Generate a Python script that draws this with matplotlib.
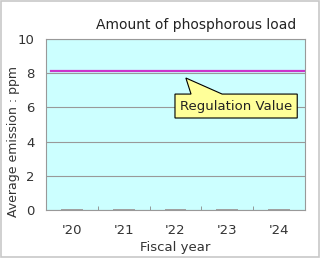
import matplotlib.pyplot as plt
import numpy as np
from matplotlib.patches import Polygon

years = ["'20", "'21", "'22", "'23", "'24"]
emission = [0.04, 0.04, 0.04, 0.04, 0.04]
regulation = 8.1

fig = plt.figure(figsize=(3.2, 2.58), dpi=100)
fig.patches.append(plt.Rectangle((0.003, 0.004), 0.994, 0.992, transform=fig.transFigure,
                                 fill=False, ec='#c8c8c8', lw=1.2))
ax = fig.add_axes([46/320, 1-210/258, 259/320, 171/258])
ax.set_facecolor('#ccffff')

x = np.arange(len(years))
ax.bar(x, emission, width=0.42, color='#a0a0a0', zorder=3)
ax.axhline(regulation, color='#cc33cc', lw=1.6, xmin=0.02, zorder=4)

ax.set_xlim(-0.5, len(years)-0.5)
ax.set_ylim(0, 10)
ax.set_yticks([0, 2, 4, 6, 8, 10])
ax.yaxis.grid(True, color='#999999', lw=0.8)
ax.set_axisbelow(True)
ax.set_xticks(x)
ax.set_xticklabels(years, fontsize=9.5, color='#333333')
ax.set_xticks(np.arange(len(years)-1)+0.5, minor=True)
ax.tick_params(axis='x', which='major', length=0, pad=10)
ax.tick_params(axis='x', which='minor', length=3, direction='in', color='#888888')
ax.tick_params(axis='y', length=0, pad=8, labelsize=9.5, labelcolor='#333333')
for s in ax.spines.values():
    s.set_color('#999999')

ax.set_ylabel('Average emission : ppm', fontsize=9, color='#333333')
ax.yaxis.set_label_coords(-0.10, 0.40)
ax.set_xlabel('Fiscal year', fontsize=9.5, color='#333333', labelpad=3)
fig.text(296/320, 1-25/258, 'Amount of phosphorous load', ha='right', va='center',
         fontsize=10, color='#222222')

# callout for the regulation value
bx0, bx1, by0, by1 = 1.99, 4.35, 5.38, 6.78
tip = (2.20, 7.72)
callout = Polygon([(bx0, by0), (bx1, by0), (bx1, by1), (2.90, by1), tip, (2.30, by1), (bx0, by1)],
                  closed=True, fc='#ffff99', ec='black', lw=0.8, zorder=6, clip_on=False)
ax.add_patch(callout)
ax.text((bx0+bx1)/2, (by0+by1)/2, 'Regulation Value', ha='center', va='center',
        fontsize=9.5, color='#222222', zorder=7)

fig.savefig('out.png', dpi=100)
